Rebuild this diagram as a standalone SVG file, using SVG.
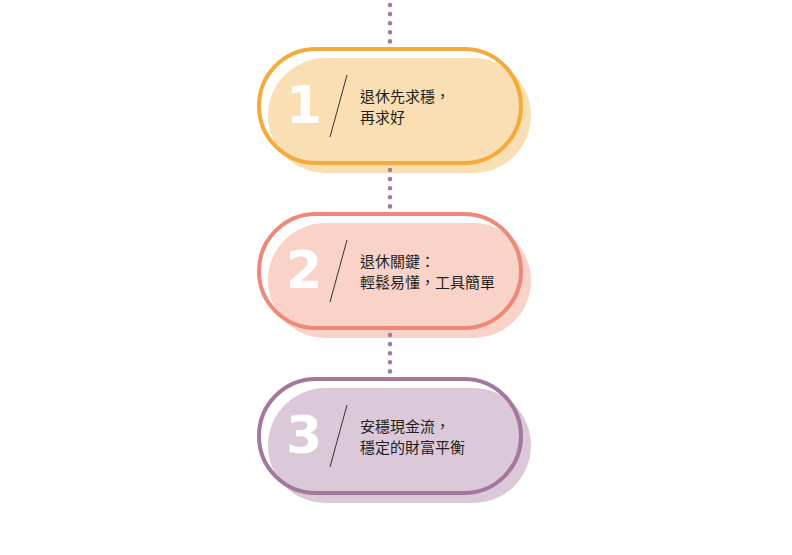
<svg xmlns="http://www.w3.org/2000/svg" width="792" height="555" viewBox="0 0 792 555">
<style>
.dots{stroke:#a47aa1;stroke-width:4.6;stroke-linecap:round;stroke-dasharray:0 9.1;fill:none}
.bg{fill:#ffffff}
.num{font-family:"DejaVu Sans",sans-serif;font-weight:bold;font-size:52px;fill:#ffffff;text-anchor:middle}
.sl{stroke:#333333;stroke-width:1;fill:none}
.t{font-family:"Noto Sans CJK TC","Noto Sans CJK SC",sans-serif;font-size:15px;font-weight:400;fill:#231f20}
.o{fill:none;stroke-width:4}
</style>
<rect width="792" height="555" fill="#ffffff"/>
<g id="node1">
<rect class="bg" x="259" y="49" width="262" height="114" rx="57"/>
<rect x="268" y="58" width="263" height="115" rx="57.5" fill="#fbdfb4"/>
<rect class="o" x="259" y="49" width="262" height="114" rx="57" stroke="#f5aa3a"/>
<text class="num" x="304" y="123">1</text>
<line class="sl" x1="347" y1="75" x2="330" y2="137"/>
<text class="t" x="360" y="102">退休先求穩，</text>
<text class="t" x="360" y="123">再求好</text>
</g>
<g id="node2">
<rect class="bg" x="259" y="214" width="262" height="114" rx="57"/>
<rect x="268" y="223" width="263" height="115" rx="57.5" fill="#f9d3c8"/>
<rect class="o" x="259" y="214" width="262" height="114" rx="57" stroke="#ef8878"/>
<text class="num" x="304" y="288">2</text>
<line class="sl" x1="347" y1="240" x2="330" y2="302"/>
<text class="t" x="360" y="267">退休關鍵：</text>
<text class="t" x="360" y="288">輕鬆易懂，工具簡單</text>
</g>
<g id="node3">
<rect class="bg" x="259" y="379" width="262" height="114" rx="57"/>
<rect x="268" y="388" width="263" height="115" rx="57.5" fill="#dbc9d9"/>
<rect class="o" x="259" y="379" width="262" height="114" rx="57" stroke="#a4779d"/>
<text class="num" x="304" y="453">3</text>
<line class="sl" x1="347" y1="405" x2="330" y2="467"/>
<text class="t" x="360" y="432">安穩現金流，</text>
<text class="t" x="360" y="453">穩定的財富平衡</text>
</g>
<g id="connectors">
<line class="dots" x1="390" y1="5" x2="390" y2="42"/>
<line class="dots" x1="390" y1="170" x2="390" y2="207"/>
<line class="dots" x1="390" y1="335" x2="390" y2="372"/>
</g>
</svg>
